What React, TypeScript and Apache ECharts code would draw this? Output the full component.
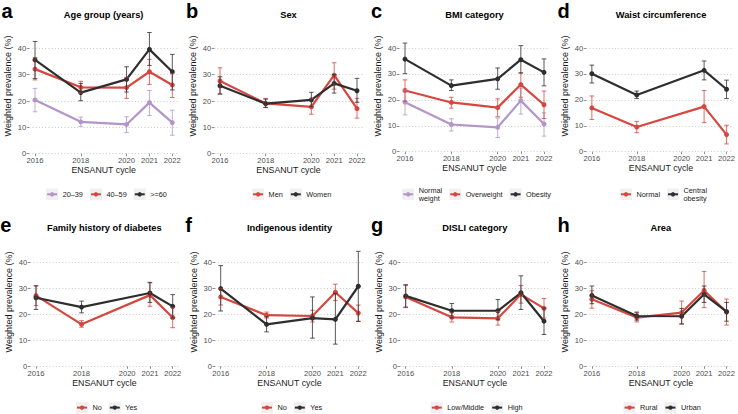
import React, { useEffect, useRef } from "react";
import * as echarts from "echarts";

const years = [2016, 2018, 2020, 2021, 2022];
const xTickLabels = [2016, 2018, 2020, 2021, 2022];
const yTicks = [0, 10, 20, 30, 40];

// a — Age group
const age2039 = [20.4, 12.1, 11.1, 19.4, 11.8];
const age2039Lo = [15.9, 10.4, 8.0, 14.5, 7.0];
const age2039Hi = [24.8, 13.9, 14.0, 24.0, 16.5];
const age4059 = [32.1, 25.2, 25.1, 31.1, 26.1];
const age4059Lo = [28.0, 23.0, 21.0, 26.3, 21.3];
const age4059Hi = [36.5, 27.5, 29.0, 35.8, 30.5];
const age60 = [35.6, 23.2, 28.2, 39.6, 31.1];
const age60Lo = [28.5, 20.1, 23.4, 33.5, 24.2];
const age60Hi = [42.6, 26.7, 33.0, 46.0, 37.7];
// b — Sex
const men = [27.6, 19.1, 17.8, 29.8, 17.1];
const menLo = [22.7, 17.6, 15.0, 24.5, 13.5];
const menHi = [32.6, 21.0, 21.0, 34.5, 21.0];
const women = [25.8, 19.0, 20.4, 26.7, 23.9];
const womenLo = [22.6, 17.5, 17.8, 23.0, 19.5];
const womenHi = [29.2, 20.7, 23.3, 30.0, 28.6];
// c — BMI
const bmiNormal = [19.1, 10.5, 9.4, 19.7, 10.7];
const bmiNormalLo = [14.2, 8.0, 5.5, 14.5, 6.0];
const bmiNormalHi = [23.8, 12.7, 13.0, 24.5, 15.0];
const bmiOver = [23.6, 19.0, 17.0, 25.9, 18.1];
const bmiOverLo = [19.4, 16.8, 13.5, 21.0, 12.8];
const bmiOverHi = [27.7, 21.0, 20.4, 30.5, 23.4];
const bmiObese = [35.7, 25.5, 28.1, 35.5, 30.6];
const bmiObeseLo = [30.1, 23.6, 24.1, 30.3, 25.4];
const bmiObeseHi = [41.9, 27.7, 32.3, 40.9, 35.8];
// d — Waist
const waistNormal = [16.9, 9.5, null, 17.4, 6.6];
const waistNormalLo = [12.4, 7.3, null, 11.2, 3.0];
const waistNormalHi = [21.5, 11.7, null, 23.6, 10.2];
const waistCentral = [30.1, 21.9, null, 31.4, 24.1];
const waistCentralLo = [26.5, 20.5, null, 27.7, 20.5];
const waistCentralHi = [33.4, 23.4, null, 35.0, 27.6];
// e — Family history
const famNo = [27.1, 16.1, null, 27.3, 18.7];
const famNoLo = [23.3, 15.0, null, 23.0, 14.8];
const famNoHi = [31.0, 17.5, null, 32.0, 22.5];
const famYes = [26.3, 22.7, null, 28.1, 23.0];
const famYesLo = [21.8, 20.5, null, 24.5, 18.5];
const famYesHi = [30.8, 25.0, null, 32.2, 27.5];
// f — Indigenous identity
const indNo = [26.6, 19.6, 19.3, 28.4, 20.4];
const indNoLo = [23.5, 18.5, 17.0, 25.2, 17.3];
const indNoHi = [29.7, 20.8, 21.5, 31.5, 23.5];
const indYes = [29.8, 16.1, 18.5, 18.0, 30.7];
const indYesLo = [21.2, 13.2, 10.8, 8.5, 17.2];
const indYesHi = [38.6, 19.0, 26.6, 28.0, 44.1];
// g — DISLI
const disliLow = [26.6, 18.8, 18.4, 27.6, 22.2];
const disliLowLo = [22.5, 17.0, 15.8, 24.2, 18.5];
const disliLowHi = [31.0, 20.5, 21.0, 31.0, 26.0];
const disliHigh = [27.0, 21.3, 21.3, 28.2, 17.3];
const disliHighLo = [22.7, 18.6, 17.8, 21.8, 12.2];
const disliHighHi = [31.3, 24.1, 25.6, 34.7, 22.4];
// h — Area
const rural = [25.7, 18.7, 20.6, 29.1, 20.8];
const ruralLo = [22.3, 17.0, 16.3, 22.5, 15.8];
const ruralHi = [29.0, 20.5, 25.0, 36.4, 25.8];
const urban = [27.2, 19.3, 19.2, 27.6, 21.0];
const urbanLo = [24.0, 17.7, 16.2, 24.5, 17.3];
const urbanHi = [30.8, 20.8, 22.2, 30.8, 24.5];

const PURPLE = "#B395C9";
const RED = "#D5473F";
const BLACK = "#2E2E2E";
const FONT = '"Liberation Sans", Arial, Helvetica, sans-serif';

type S = { name: string; color: string; est: (number | null)[]; lo: (number | null)[]; hi: (number | null)[] };
type P = {
  letter: string; title: string; x0: number; x1: number; yTop: number; yBot: number;
  row: number; legendCx: number; series: S[];
};

const panels: P[] = [
  { letter: "a", title: "Age group (years)", x0: 35, x1: 172.3, yTop: 48.3, yBot: 153.7, row: 0, legendCx: 106.5,
    series: [
      { name: "20–39", color: PURPLE, est: age2039, lo: age2039Lo, hi: age2039Hi },
      { name: "40–59", color: RED, est: age4059, lo: age4059Lo, hi: age4059Hi },
      { name: ">=60", color: BLACK, est: age60, lo: age60Lo, hi: age60Hi },
    ] },
  { letter: "b", title: "Sex", x0: 220, x1: 357, yTop: 48.3, yBot: 153.7, row: 0, legendCx: 291.7,
    series: [
      { name: "Men", color: RED, est: men, lo: menLo, hi: menHi },
      { name: "Women", color: BLACK, est: women, lo: womenLo, hi: womenHi },
    ] },
  { letter: "c", title: "BMI category", x0: 405, x1: 544, yTop: 48, yBot: 151.7, row: 0, legendCx: 476.5,
    series: [
      { name: "Normal\nweight", color: PURPLE, est: bmiNormal, lo: bmiNormalLo, hi: bmiNormalHi },
      { name: "Overweight", color: RED, est: bmiOver, lo: bmiOverLo, hi: bmiOverHi },
      { name: "Obesity", color: BLACK, est: bmiObese, lo: bmiObeseLo, hi: bmiObeseHi },
    ] },
  { letter: "d", title: "Waist circumference", x0: 592, x1: 730, yTop: 48, yBot: 151.7, row: 0, legendCx: 663.5,
    series: [
      { name: "Normal", color: RED, est: waistNormal, lo: waistNormalLo, hi: waistNormalHi },
      { name: "Central\nobesity", color: BLACK, est: waistCentral, lo: waistCentralLo, hi: waistCentralHi },
    ] },
  { letter: "e", title: "Family history of diabetes", x0: 36, x1: 172.7, yTop: 262, yBot: 366.3, row: 1, legendCx: 106.6,
    series: [
      { name: "No", color: RED, est: famNo, lo: famNoLo, hi: famNoHi },
      { name: "Yes", color: BLACK, est: famYes, lo: famYesLo, hi: famYesHi },
    ] },
  { letter: "f", title: "Indigenous identity", x0: 220.7, x1: 358.3, yTop: 262, yBot: 366.3, row: 1, legendCx: 291.6,
    series: [
      { name: "No", color: RED, est: indNo, lo: indNoLo, hi: indNoHi },
      { name: "Yes", color: BLACK, est: indYes, lo: indYesLo, hi: indYesHi },
    ] },
  { letter: "g", title: "DISLI category", x0: 405.7, x1: 544, yTop: 262, yBot: 366.3, row: 1, legendCx: 476.7,
    series: [
      { name: "Low/Middle", color: RED, est: disliLow, lo: disliLowLo, hi: disliLowHi },
      { name: "High", color: BLACK, est: disliHigh, lo: disliHighLo, hi: disliHighHi },
    ] },
  { letter: "h", title: "Area", x0: 592, x1: 729.7, yTop: 262, yBot: 366.3, row: 1, legendCx: 662.2,
    series: [
      { name: "Rural", color: RED, est: rural, lo: ruralLo, hi: ruralHi },
      { name: "Urban", color: BLACK, est: urban, lo: urbanLo, hi: urbanHi },
    ] },
];

const PAD = 0.25;
const ROW = [
  { title: 15, letter: 11.3, ytitle: 86, legend: 194.3 },
  { title: 227.7, letter: 225, ytitle: 302, legend: 407.6 },
];

let measureCtx: CanvasRenderingContext2D | null = null;
function textWidth(s: string, size: number) {
  if (!measureCtx) measureCtx = document.createElement("canvas").getContext("2d");
  if (!measureCtx) return s.length * size * 0.55;
  measureCtx.font = `${size}px ${FONT}`;
  return measureCtx.measureText(s).width;
}

function buildOption() {
  const grid: any[] = [];
  const xAxis: any[] = [];
  const yAxis: any[] = [];
  const series: any[] = [];
  const graphic: any[] = [];

  panels.forEach((p, i) => {
    const ppy = (p.x1 - p.x0) / 6;
    const left = p.x0 - PAD * ppy;
    const right = p.x1 + PAD * ppy;
    const cx = (left + right) / 2;
    const row = ROW[p.row];
    grid.push({ left, top: p.yTop, width: right - left, height: p.yBot - p.yTop, containLabel: false });
    xAxis.push({
      type: "value", gridIndex: i, min: 2016 - PAD, max: 2022 + PAD,
      axisLine: { show: false },
      axisTick: { show: true, customValues: xTickLabels, length: 2.5, lineStyle: { color: "#444", width: 0.6 } },
      axisLabel: {
        show: true, customValues: xTickLabels, margin: 3, fontSize: 7.6, color: "#4d4d4d", fontFamily: FONT,
        formatter: (v: number) => String(Math.round(v)),
      },
      splitLine: { show: false },
    });
    yAxis.push({
      type: "value", gridIndex: i, min: yTicks[0], max: yTicks[yTicks.length - 1], interval: 10,
      axisLine: { show: false },
      axisTick: { show: true, length: 2.5, lineStyle: { color: "#444", width: 0.6 } },
      axisLabel: { margin: 3, fontSize: 7.6, color: "#4d4d4d", fontFamily: FONT },
      splitLine: { show: true, lineStyle: { color: "#bdbdbd", width: 0.8, type: [1, 2.2] } },
    });

    p.series.forEach((s) => {
      const pts: number[][] = [];
      const bars: number[][] = [];
      years.forEach((y, k) => {
        if (s.est[k] != null) pts.push([y, s.est[k] as number]);
        if (s.lo[k] != null && s.hi[k] != null) bars.push([y, s.lo[k] as number, s.hi[k] as number]);
      });
      series.push({
        type: "line", name: s.name, xAxisIndex: i, yAxisIndex: i, data: pts, clip: false,
        symbol: "circle", symbolSize: 5, showSymbol: true,
        lineStyle: { color: s.color, width: 2.2 }, itemStyle: { color: s.color },
        emphasis: { disabled: true }, silent: true, z: 2,
      });
      series.push({
        type: "custom", name: s.name + " CI", xAxisIndex: i, yAxisIndex: i, data: bars, clip: false,
        encode: { x: 0, y: [1, 2] }, silent: true, z: 3,
        renderItem: (params: any, api: any) => {
          const x = api.value(0);
          const a = api.coord([x, api.value(1)]);
          const b = api.coord([x, api.value(2)]);
          const w = 2.3;
          const style = { stroke: s.color, lineWidth: 0.8 };
          return {
            type: "group",
            children: [
              { type: "line", shape: { x1: a[0], y1: a[1], x2: b[0], y2: b[1] }, style },
              { type: "line", shape: { x1: a[0] - w, y1: a[1], x2: a[0] + w, y2: a[1] }, style },
              { type: "line", shape: { x1: b[0] - w, y1: b[1], x2: b[0] + w, y2: b[1] }, style },
            ],
          };
        },
      });
    });

    // texts
    graphic.push({
      type: "text", x: cx, y: row.title, silent: true,
      style: { text: p.title, fontSize: 9.3, fontWeight: "bold", fontFamily: FONT, fill: "#000", align: "center", verticalAlign: "middle" },
    });
    const letterX = p.row === 0 ? [1.5, 186, 371, 557.5][i % 4] : [0.3, 185.3, 371, 557.5][i % 4];
    graphic.push({
      type: "text", x: letterX, y: row.letter, silent: true,
      style: { text: p.letter, fontSize: 20, fontWeight: "bold", fontFamily: FONT, fill: "#000", align: "left", verticalAlign: "middle" },
    });
    graphic.push({
      type: "text", x: left - 21, y: row.ytitle, rotation: Math.PI / 2, silent: true,
      style: { text: "Weighted prevalence (%)", fontSize: 9, fontFamily: FONT, fill: "#1a1a1a", align: "center", verticalAlign: "middle" },
    });
    graphic.push({
      type: "text", x: cx, y: p.yBot + 16.5, silent: true,
      style: { text: "ENSANUT cycle", fontSize: 8.8, fontFamily: FONT, fill: "#1a1a1a", align: "center", verticalAlign: "middle" },
    });

    // legend
    const keyW = 12, keyH = 11.5, gapKT = 4.5, gapItem = 7, lsize = 7.3;
    const widths = p.series.map((s) => Math.max(...s.name.split("\n").map((t) => textWidth(t, lsize))));
    const total = widths.reduce((acc, w) => acc + keyW + gapKT + w, 0) + gapItem * (p.series.length - 1);
    let x = p.legendCx - total / 2;
    const ly = row.legend;
    p.series.forEach((s, k) => {
      graphic.push({ type: "rect", silent: true, shape: { x, y: ly - keyH / 2, width: keyW, height: keyH }, style: { fill: "#F0F0F0" } });
      graphic.push({ type: "line", silent: true, shape: { x1: x + 1, y1: ly, x2: x + keyW - 1, y2: ly }, style: { stroke: s.color, lineWidth: 2 } });
      graphic.push({ type: "circle", silent: true, shape: { cx: x + keyW / 2, cy: ly, r: 2.2 }, style: { fill: s.color } });
      graphic.push({
        type: "text", x: x + keyW + gapKT, y: ly, silent: true,
        style: { text: s.name, fontSize: lsize, lineHeight: 8.5, fontFamily: FONT, fill: "#1a1a1a", align: "left", verticalAlign: "middle" },
      });
      x += keyW + gapKT + widths[k] + gapItem;
    });
  });

  return {
    animation: false,
    backgroundColor: "#ffffff",
    textStyle: { fontFamily: FONT },
    grid, xAxis, yAxis, series, graphic,
  };
}

export default function App() {
  const ref = useRef<HTMLDivElement>(null);
  useEffect(() => {
    if (!ref.current) return;
    const chart = echarts.init(ref.current, undefined, { renderer: "svg" });
    chart.setOption(buildOption() as any);
    return () => chart.dispose();
  }, []);
  return (
    <div
      ref={ref}
      style={{ position: "fixed", left: 0, top: 0, width: 738, height: 414, background: "#fff" }}
    />
  );
}
